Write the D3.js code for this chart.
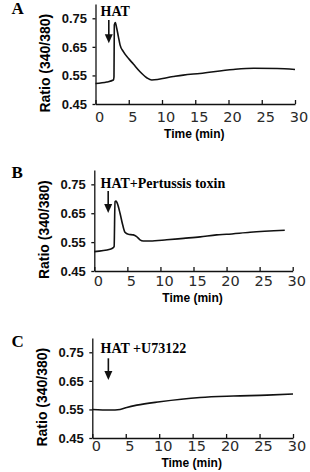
<!DOCTYPE html>
<html><head><meta charset="utf-8">
<script src="https://cdn.jsdelivr.net/npm/d3@7"></script>
<style>
html,body{margin:0;padding:0;background:#fff;}
svg{display:block;}
</style></head>
<body>
<svg id="chart" width="310" height="472"></svg>
<script>
// ---- data ----
const xTicks = [0, 5, 10, 15, 20, 25, 30];
const yTicks = [0.45, 0.55, 0.65, 0.75];
const panelLetters = ["A", "B", "C"];
const annotations = ["HAT", "HAT+Pertussis toxin", "HAT +U73122"];
const arrowTimes = [2.0, 2.1, 2.4];
const xTitle = "Time (min)";
const yTitle = "Ratio (340/380)";

const timeA  = [0, 1.7, 2.68, 2.78, 2.83, 2.98, 3.19, 3.44, 3.69, 4.19, 4.94, 5.69, 6.70, 7.71, 8.46, 11.7, 13.2, 15.7, 20.75, 23.8, 27.3, 30];
const ratioA = [0.522, 0.527, 0.534, 0.545, 0.727, 0.735, 0.715, 0.686, 0.657, 0.633, 0.610, 0.590, 0.563, 0.542, 0.534, 0.546, 0.551, 0.557, 0.571, 0.575, 0.574, 0.571];

const timeB  = [0, 2.37, 2.87, 3.0, 3.13, 3.28, 3.48, 3.89, 4.3, 4.64, 5.14, 5.9, 6.41, 6.91, 7.41, 8.42, 10.95, 13.5, 16, 18.5, 20, 23.55, 28.8];
const ratioB = [0.517, 0.525, 0.531, 0.535, 0.690, 0.692, 0.684, 0.650, 0.609, 0.584, 0.577, 0.575, 0.569, 0.558, 0.554, 0.554, 0.558, 0.563, 0.568, 0.575, 0.577, 0.584, 0.591];

const timeC  = [0, 2.65, 4.15, 5.15, 6.65, 10.1, 16.1, 21.1, 26.1, 30];
const ratioC = [0.550, 0.548, 0.550, 0.557, 0.565, 0.577, 0.592, 0.597, 0.600, 0.604];

const seriesTimes = [timeA, timeB, timeC];
const seriesRatios = [ratioA, ratioB, ratioC];

// ---- layout (per panel) ----
const layout = [
  {x0: 95.5, x1: 295.0, yTop: 4.0,   yBot: 104.0, tickBase: 18.3, titleBase: 34.3, letterY: 14,    annY: 15.7,  arrTop: 20,    arrTip: 43.3},
  {x0: 94.3, x1: 292.7, yTop: 169.9, yBot: 271.0, tickBase: 15.3, titleBase: 31.3, letterY: 178.3, annY: 188.3, arrTop: 191,   arrTip: 213},
  {x0: 92.3, x1: 293.0, yTop: 338.0, yBot: 438.0, tickBase: 13.0, titleBase: 28.5, letterY: 346.7, annY: 353.3, arrTop: 358.3, arrTip: 380}
];

const svg = d3.select("#chart");
const sansBold = "'Liberation Sans', Arial, Helvetica, sans-serif";
const serif = "'Liberation Serif', 'Times New Roman', serif";

layout.forEach((L, i) => {
  const x = d3.scaleLinear().domain([0, 30]).range([L.x0, L.x1]);
  const y = d3.scaleLinear().domain([0.45, 0.80]).range([L.yBot, L.yTop]);
  const g = svg.append("g");

  // x axis
  const xa = g.append("g").attr("transform", `translate(0,${L.yBot})`)
    .call(d3.axisBottom(x).tickValues(xTicks).tickFormat(d3.format("d")).tickSizeInner(-4).tickSizeOuter(0));
  xa.selectAll("text").attr("y", L.tickBase).attr("dy", 0).attr("dx", 3.5)
    .style("font-family", "'DejaVu Sans', Verdana, sans-serif").style("font-size", "14.5px").style("fill", "#2a2a2a");

  // y axis
  const ya = g.append("g").attr("transform", `translate(${L.x0},0)`)
    .call(d3.axisLeft(y).tickValues(yTicks).tickFormat(d3.format(".2f")).tickSizeInner(3).tickSizeOuter(0).tickPadding(5.5));
  ya.selectAll("text").style("font-family", sansBold).style("font-weight", "bold").style("font-size", "13px").style("fill", "#111");

  g.selectAll(".domain, .tick line").attr("stroke", "#111").attr("stroke-width", 1.3);

  // axis titles
  g.append("text").attr("x", (L.x0 + L.x1) / 2 - 1).attr("y", L.yBot + L.titleBase)
    .attr("text-anchor", "middle").style("font-family", sansBold).style("font-weight", "bold").style("font-size", "12px")
    .text(xTitle);
  const yc = (y(0.75) + y(0.45)) / 2 + 2;
  g.append("text").attr("transform", `translate(${L.x0 - 45.5},${yc}) rotate(-90)`)
    .attr("text-anchor", "middle").style("font-family", sansBold).style("font-weight", "bold").style("font-size", "14px")
    .text(yTitle);

  // panel letter
  g.append("text").attr("x", 11.5).attr("y", L.letterY)
    .style("font-family", serif).style("font-weight", "bold").style("font-size", "17px").text(panelLetters[i]);

  // annotation
  g.append("text").attr("x", 100.5).attr("y", L.annY)
    .style("font-family", serif).style("font-weight", "bold").style("font-size", "14px").text(annotations[i]);

  // arrow
  const ax = x(arrowTimes[i]);
  g.append("line").attr("x1", ax).attr("x2", ax).attr("y1", L.arrTop).attr("y2", L.arrTip - 8)
    .attr("stroke", "#111").attr("stroke-width", 1.6);
  g.append("path").attr("d", `M${ax - 4},${L.arrTip - 9} L${ax + 4},${L.arrTip - 9} L${ax},${L.arrTip} Z`).attr("fill", "#111");

  // curve
  const pts = seriesTimes[i].map((t, k) => [t, seriesRatios[i][k]]);
  g.append("path").datum(pts)
    .attr("d", d3.line().x(d => x(d[0])).y(d => y(d[1])).curve(d3.curveMonotoneX))
    .attr("fill", "none").attr("stroke", "#111").attr("stroke-width", 1.6).attr("stroke-linejoin", "round");
});
</script>
</body></html>
